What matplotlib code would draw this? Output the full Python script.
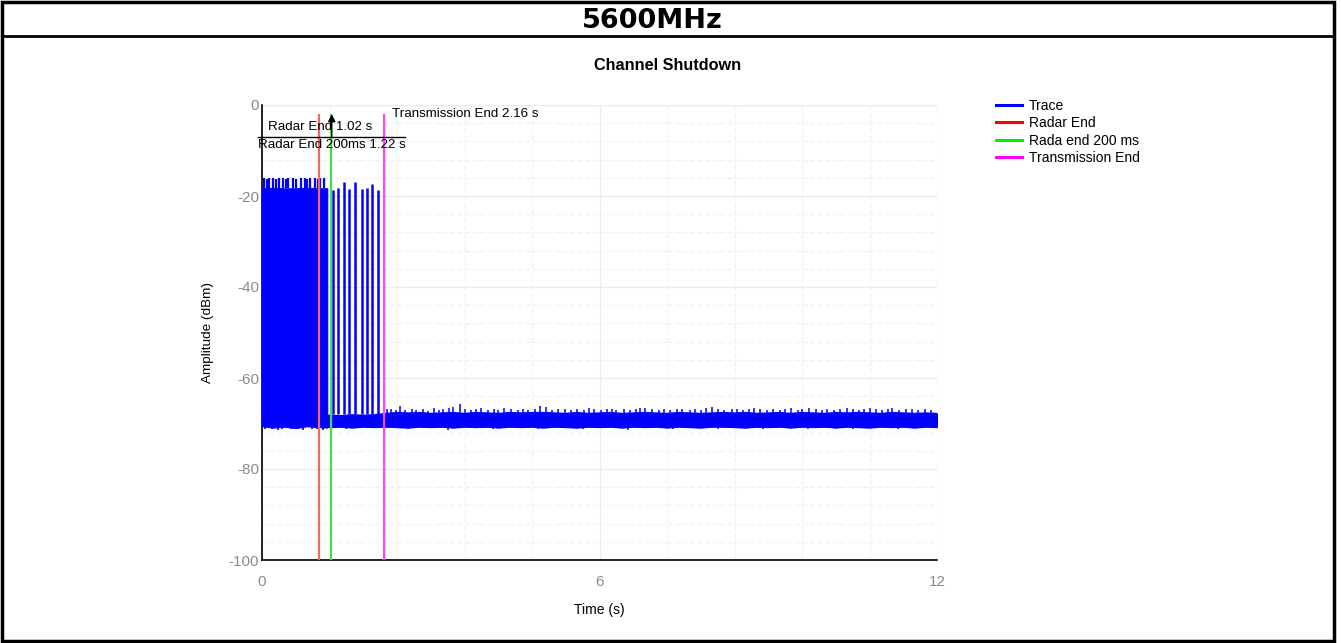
import numpy as np
import matplotlib
matplotlib.use("Agg")
import matplotlib.pyplot as plt
from matplotlib.lines import Line2D
from matplotlib.patches import Rectangle
from matplotlib.ticker import MultipleLocator

plt.rcParams['font.family'] = ['Liberation Sans', 'DejaVu Sans']
plt.rcParams['axes.unicode_minus'] = False

# ---------------- data ----------------
header_title = "5600MHz"
chart_title = "Channel Shutdown"
x_label = "Time (s)"
y_label = "Amplitude (dBm)"
x_ticks = [0, 6, 12]
y_ticks = [0, -20, -40, -60, -80, -100]

# dense radar burst (0 .. 1.16 s): envelope
burst_t = [0.0, 0.2, 0.4, 0.6, 0.8, 1.0, 1.16]
burst_upper = [-18.3, -18.2, -18.3, -18.3, -18.2, -18.3, -18.3]
burst_lower = [-70.6, -70.9, -70.7, -71.0, -70.6, -70.8, -70.9]
# small peaks on top of the burst
burst_peak_t = [0.03, 0.09, 0.13, 0.19, 0.24, 0.31, 0.38, 0.43, 0.47, 0.55, 0.60,
                0.70, 0.76, 0.80, 0.86, 0.94, 0.99, 1.03, 1.10]
burst_peak_v = [-16.1, -16.2, -16.1, -16.1, -16.2, -16.1, -16.1, -16.2, -16.1,
                -16.1, -16.2, -16.1, -16.1, -16.2, -16.1, -16.1, -16.2, -16.1, -16.1]
# small dips below the burst
burst_dip_t = [0.05, 0.17, 0.29, 0.36, 0.52, 0.64, 0.73, 0.88, 0.97, 1.08]
burst_dip_v = [-71.3, -71.1, -71.4, -71.2, -71.3, -71.1, -71.4, -71.2, -71.3, -71.5]

# individual pulses after the radar end
pulse_t = [1.26, 1.35, 1.45, 1.55, 1.66, 1.77, 1.87, 1.96, 2.06]
pulse_v = [-18.7, -18.3, -17.0, -18.5, -16.9, -18.5, -18.3, -17.4, -18.7]

# noise floor envelope (1.16 .. 12 s)
floor_t = [1.16, 1.2, 1.4, 1.6, 1.8, 2.0, 2.2, 2.4, 2.6, 2.8, 3.0, 3.2, 3.4, 3.6,
           3.8, 4.0, 4.2, 4.4, 4.6, 4.8, 5.0, 5.2, 5.4, 5.6, 5.8, 6.0, 6.2, 6.4,
           6.6, 6.8, 7.0, 7.2, 7.4, 7.6, 7.8, 8.0, 8.2, 8.4, 8.6, 8.8, 9.0, 9.2,
           9.4, 9.6, 9.8, 10.0, 10.2, 10.4, 10.6, 10.8, 11.0, 11.2, 11.4, 11.6,
           11.8, 12.0]
floor_upper = [-68.3, -68.2, -68.3, -68.1, -68.2, -68.1, -67.8, -67.6, -67.7,
               -67.6, -67.8, -67.7, -67.6, -67.8, -67.6, -67.7, -67.8, -67.6,
               -67.7, -67.6, -67.6, -67.7, -67.8, -67.6, -67.8, -67.7, -67.6,
               -67.8, -67.7, -67.6, -67.7, -67.8, -67.6, -67.7, -67.8, -67.7,
               -67.6, -67.7, -67.6, -67.8, -67.7, -67.6, -67.8, -67.6, -67.7,
               -67.8, -67.6, -67.7, -67.6, -67.7, -67.8, -67.6, -67.7, -67.8,
               -67.7, -67.8]
floor_lower = [-70.7, -70.8, -70.7, -70.9, -70.7, -70.8, -70.7, -70.8, -70.9,
               -70.7, -70.8, -70.7, -70.9, -70.7, -70.8, -70.7, -70.9, -70.7,
               -70.8, -70.7, -70.9, -70.7, -70.8, -70.9, -70.7, -70.8, -70.7,
               -70.9, -70.7, -70.8, -70.7, -70.9, -70.7, -70.8, -70.9, -70.7,
               -70.7, -70.8, -70.9, -70.7, -70.8, -70.7, -70.9, -70.7, -70.8,
               -70.7, -70.9, -70.7, -70.8, -70.9, -70.7, -70.8, -70.7, -70.9,
               -70.7, -70.8]
# short noise spikes above the floor
floor_spike_t = [2.22, 2.3, 2.38, 2.45, 2.55, 2.66, 2.74, 2.86, 2.95, 3.05, 3.14,
                 3.22, 3.33, 3.4, 3.52, 3.6, 3.71, 3.8, 3.9, 4.02, 4.12, 4.2, 4.3,
                 4.42, 4.55, 4.64, 4.73, 4.86, 4.95, 5.05, 5.16, 5.26, 5.38, 5.5,
                 5.6, 5.72, 5.82, 5.9, 6.03, 6.14, 6.22, 6.3, 6.43, 6.55, 6.64,
                 6.72, 6.8, 6.93, 7.05, 7.15, 7.26, 7.38, 7.47, 7.6, 7.7, 7.8,
                 7.9, 8.0, 8.1, 8.22, 8.35, 8.44, 8.55, 8.66, 8.75, 8.86, 8.97,
                 9.08, 9.2, 9.3, 9.4, 9.52, 9.6, 9.72, 9.84, 9.95, 10.05, 10.17,
                 10.28, 10.4, 10.5, 10.62, 10.71, 10.8, 10.92, 11.03, 11.12,
                 11.2, 11.33, 11.45, 11.55, 11.66, 11.78, 11.9]
floor_spike_v = [-66.9, -66.8, -67.0, -66.1, -67.1, -66.8, -67.0, -66.9, -67.2,
                 -66.7, -67.0, -66.9, -66.6, -66.3, -65.8, -66.9, -67.1, -66.8,
                 -66.7, -67.0, -66.9, -67.1, -66.6, -66.9, -67.0, -66.8, -67.1,
                 -66.9, -66.2, -66.3, -67.0, -66.8, -66.9, -67.1, -66.8, -67.0,
                 -66.7, -66.9, -67.1, -66.8, -66.9, -67.0, -66.8, -67.1, -66.9,
                 -66.7, -66.6, -66.9, -67.0, -66.8, -67.1, -66.9, -66.8, -67.0,
                 -66.9, -67.1, -66.7, -66.4, -66.9, -67.0, -66.8, -66.9, -67.1,
                 -66.8, -66.6, -66.9, -67.0, -66.8, -67.1, -66.9, -66.7, -67.0,
                 -66.8, -66.6, -66.9, -67.0, -66.8, -67.1, -66.9, -66.6, -66.8,
                 -67.0, -66.9, -66.5, -66.9, -67.0, -66.8, -66.7, -67.0, -66.9,
                 -66.8, -67.1, -66.9, -67.0]
# short dips below the floor
floor_dip_t = [1.5, 2.6, 3.3, 4.1, 4.9, 5.7, 6.5, 7.3, 8.1, 8.9, 9.7, 10.5, 11.3]
floor_dip_v = [-71.3, -71.2, -71.4, -71.2, -71.3, -71.2, -71.4, -71.2, -71.3,
               -71.2, -71.3, -71.2, -71.3]

radar_end = 1.02
radar_end_200 = 1.22
tx_end = 2.16
marker_top = -2.0

legend_labels = ["Trace", "Radar End", "Rada end 200 ms", "Transmission End"]
legend_colors = ["#0000ff", "#ff0000", "#00ee00", "#ff00ff"]

# ---------------- figure ----------------
W, H = 1341, 643
fig = plt.figure(figsize=(W / 100, H / 100), dpi=100)

def fx(px):
    return px / W

def fy(py):
    return 1 - py / H

# outer frame and header separator
fig.patches.append(Rectangle((fx(2), fy(641)), fx(1334) - fx(2), fy(2) - fy(641),
                             transform=fig.transFigure, fill=False, lw=2.5,
                             edgecolor='black'))
fig.lines.append(Line2D([fx(2), fx(1334)], [fy(36), fy(36)], transform=fig.transFigure,
                        color='black', lw=2))
fig.text(fx(652), fy(21), header_title, ha='center', va='center', fontsize=19.5,
         fontweight='bold', family='DejaVu Sans')

ax = fig.add_axes([fx(262), fy(560), fx(937) - fx(262), fy(105) - fy(560)])
ax.set_xlim(0, 12)
ax.set_ylim(-100, 0)

blue = '#0000ff'
ax.fill_between(burst_t, burst_lower, burst_upper, color=blue, lw=0.8, zorder=3)
ax.vlines(burst_peak_t, -18.3, burst_peak_v, color=blue, lw=1.6, zorder=3)
ax.vlines(burst_dip_t, -70.0, burst_dip_v, color=blue, lw=1.2, zorder=3)
ax.fill_between(floor_t, floor_lower, floor_upper, color=blue, lw=0.8, zorder=3)
ax.plot(floor_t, floor_upper, color=blue, lw=1.0, zorder=3)
ax.plot(floor_t, floor_lower, color=blue, lw=1.0, zorder=3)
ax.vlines(floor_spike_t, -68.0, floor_spike_v, color=blue, lw=1.1, zorder=3)
ax.vlines(floor_dip_t, -70.0, floor_dip_v, color=blue, lw=1.1, zorder=3)
ax.vlines(pulse_t, -68.0, pulse_v, color=blue, lw=1.8, zorder=3)

ax.vlines([radar_end], -100, marker_top, color='#f06a6a', lw=1.6, zorder=4)
ax.vlines([radar_end_200], -100, marker_top, color='#44dd44', lw=1.6, zorder=4)
ax.vlines([tx_end], -100, marker_top, color='#ff44ff', lw=1.6, zorder=4)

# annotation
ax.plot([-0.07, 2.54], [-7.0, -7.0], color='black', lw=1, clip_on=False, zorder=5)
ax.annotate('', xy=(1.24, -2.0), xytext=(1.24, -7.0),
            arrowprops=dict(arrowstyle='-|>', color='black', lw=1, mutation_scale=11,
                            shrinkA=0, shrinkB=0), zorder=6, annotation_clip=False)
ax.text(0.11, -4.8, f"Radar End {radar_end:.2f} s", fontsize=9.6, va='center',
        ha='left', zorder=6, clip_on=False)
ax.text(-0.07, -8.8, f"Radar End 200ms {radar_end_200:.2f} s", fontsize=9.6,
        va='center', ha='left', zorder=6, clip_on=False)
ax.text(2.31, -2.0, f"Transmission End {tx_end:.2f} s", fontsize=9.6, va='center',
        ha='left', zorder=6, clip_on=False)

# axes styling
for s in ['top', 'right']:
    ax.spines[s].set_visible(False)
for s in ['left', 'bottom']:
    ax.spines[s].set_color('black')
    ax.spines[s].set_linewidth(1.2)
ax.set_xticks(x_ticks)
ax.set_yticks(y_ticks)
ax.xaxis.set_minor_locator(MultipleLocator(1.2))
ax.yaxis.set_minor_locator(MultipleLocator(4))
ax.tick_params(which='both', length=0)
ax.tick_params(axis='x', pad=11, labelsize=11, labelcolor='#8a8a8a')
ax.tick_params(axis='y', pad=2, labelsize=11, labelcolor='#8a8a8a')
ax.grid(which='major', color='#ececec', lw=0.9, ls='-', zorder=0)
ax.grid(which='minor', color='#f0f0f0', lw=0.9, ls=(0, (4, 2)), zorder=0)
ax.set_axisbelow(True)

ax.set_xlabel(x_label, fontsize=10, labelpad=10)
ax.set_ylabel(y_label, fontsize=9.7, labelpad=10.5)
fig.text(fx(668), fy(65), chart_title, ha='center', va='center', fontsize=11.7,
         fontweight='bold')

handles = [Line2D([], [], color=c, lw=2.2) for c in legend_colors]
fig.legend(handles, legend_labels, loc='upper left',
           bbox_to_anchor=(fx(996), fy(99)), frameon=False, fontsize=10,
           handlelength=1.87, handletextpad=0.5, labelspacing=0.24,
           borderaxespad=0, borderpad=0)

fig.savefig('out.png', dpi=100)
